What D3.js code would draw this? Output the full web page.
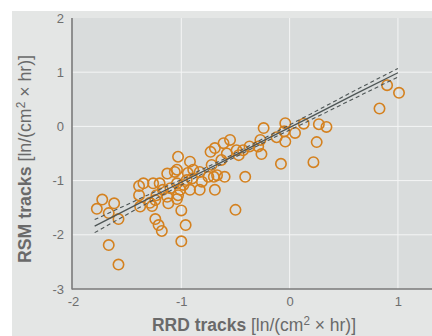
<!DOCTYPE html>
<html>
<head>
<meta charset="utf-8">
<script src="https://cdn.jsdelivr.net/npm/d3@7"></script>
<style>
  html, body { margin: 0; padding: 0; background: #ffffff; }
  svg { display: block; }
  .lbl { font-family: "Liberation Sans", "Roboto", sans-serif; }
</style>
</head>
<body>
<svg id="chart" width="432" height="336"></svg>
<script>
// ---- data ----
const rrd = [-1.78,-1.73,-1.62,-1.67,-1.58,-1.67,-1.58,-1.39,-1.35,-1.39,-1.38,-1.27,-1.24,-1.21,-1.18,-1.00,-0.96,-1.00,-1.12,-1.04,
             -1.13,-1.03,-1.04,-1.20,-1.26,-1.17,-1.10,-1.04,-1.01,-1.23,-1.13,-0.95,-1.06,-0.92,-0.89,-0.83,-0.73,-0.69,-0.61,-0.55,
             -0.58,-0.49,-0.47,-0.37,-0.29,-0.63,-0.72,-0.75,-0.70,-0.60,-0.81,-0.90,-0.92,-0.83,-0.69,-0.41,-0.50,-1.24,0.90,1.01,
             0.83,-0.24,-0.04,0.13,0.27,0.34,-0.05,-0.12,-0.04,0.05,0.25,0.22,-0.08,-0.27,-0.43,-0.26,-0.94,-0.67,-0.98,-1.03,-1.29];
const rsm = [-1.52,-1.35,-1.42,-1.60,-1.71,-2.19,-2.55,-1.10,-1.05,-1.27,-1.48,-1.47,-1.71,-1.82,-1.93,-2.12,-1.82,-1.55,-1.42,-1.34,
             -0.87,-0.56,-0.80,-1.05,-1.05,-1.17,-1.14,-1.05,-1.17,-1.27,-1.30,-0.99,-0.84,-0.65,-0.80,-0.84,-0.47,-0.40,-0.31,-0.25,
             -0.50,-0.44,-0.53,-0.37,-0.37,-0.62,-0.71,-0.93,-0.93,-0.93,-1.02,-0.96,-1.17,-1.17,-1.17,-0.93,-1.54,-1.36,0.76,0.62,
             0.33,-0.03,0.06,0.05,0.04,-0.01,-0.09,-0.20,-0.28,-0.12,-0.29,-0.66,-0.69,-0.25,-0.44,-0.51,-0.86,-0.90,-1.08,-1.27,-1.41];

// regression fit and confidence band
const fitX     = [-1.8, -1.4, -1.0, -0.6, -0.2, 0.2, 0.6, 1.0];
const fitY     = [-1.84, -1.43, -1.03, -0.63, -0.22, 0.18, 0.59, 0.99];
const bandUp   = [-1.72, -1.35, -0.98, -0.595, -0.18, 0.235, 0.66, 1.07];
const bandLow  = [-1.96, -1.51, -1.08, -0.665, -0.26, 0.125, 0.52, 0.91];

const xTicks = [-2, -1, 0, 1];
const yTicks = [2, 1, 0, -1, -2, -3];
const xGrid = [-1, 0, 1];
const yGrid = [1, 0, -1, -2];

// ---- layout ----
const svg = d3.select("#chart");
const mLeft = 72, mTop = 18, mBottom = 289, mRight = 432;
const x = d3.scaleLinear().domain([-2, 1.31]).range([73, 431.5]);
const y = d3.scaleLinear().domain([-3, 2]).range([mBottom, mTop]);

// panels
svg.append("rect").attr("x", 12).attr("y", 11).attr("width", 420).attr("height", 325).attr("fill", "#e4e6e5");
svg.append("rect").attr("x", mLeft).attr("y", mTop).attr("width", mRight - mLeft).attr("height", mBottom - mTop).attr("fill", "#d9dcdc");

// grid
svg.append("g").selectAll("line").data(xGrid).join("line")
  .attr("x1", d => x(d)).attr("x2", d => x(d)).attr("y1", mTop).attr("y2", mBottom)
  .attr("stroke", "#f4f5f5").attr("stroke-width", 1);
svg.append("g").selectAll("line").data(yGrid).join("line")
  .attr("x1", mLeft).attr("x2", mRight).attr("y1", d => y(d)).attr("y2", d => y(d))
  .attr("stroke", "#f4f5f5").attr("stroke-width", 1);

// axes
const fmt = d => String(d);
const yAxis = svg.append("g").attr("transform", `translate(${mLeft},0)`)
  .call(d3.axisLeft(y).tickValues(yTicks).tickSize(0).tickPadding(8).tickFormat(fmt));
const xAxis = svg.append("g").attr("transform", `translate(0,${mBottom})`)
  .call(d3.axisBottom(x).tickValues(xTicks).tickSize(0).tickPadding(8).tickFormat(fmt));
[yAxis, xAxis].forEach(g => {
  g.select(".domain").remove();
  g.selectAll("text").attr("class", "lbl").attr("fill", "#6e6e6e").style("font-size", "13px");
});
svg.append("line").attr("x1", mLeft).attr("x2", mLeft).attr("y1", mTop).attr("y2", mBottom + 0.5)
  .attr("stroke", "#7a7a7a").attr("stroke-width", 1.6);
svg.append("line").attr("x1", mLeft).attr("x2", mRight).attr("y1", mBottom).attr("y2", mBottom)
  .attr("stroke", "#7a7a7a").attr("stroke-width", 1.6);

// points
svg.append("g").selectAll("circle").data(rrd.map((v, i) => [v, rsm[i]])).join("circle")
  .attr("cx", d => x(d[0])).attr("cy", d => y(d[1])).attr("r", 5.2)
  .attr("fill", "none").attr("stroke", "#d4811f").attr("stroke-width", 1.6);

// fit lines
const line = d3.line().x(d => x(d[0])).y(d => y(d[1]));
svg.append("path").attr("d", line(fitX.map((v, i) => [v, fitY[i]])))
  .attr("fill", "none").attr("stroke", "#4e5656").attr("stroke-width", 1.3);
[bandUp, bandLow].forEach(b => {
  svg.append("path").attr("d", line(fitX.map((v, i) => [v, b[i]])))
    .attr("fill", "none").attr("stroke", "#4e5656").attr("stroke-width", 1.1).attr("stroke-dasharray", "4,3");
});

// axis titles (condensed look via textLength)
function title(sel, bold) {
  sel.append("tspan").attr("font-weight", "bold").text(bold);
  sel.append("tspan").text(" [ln/(cm");
  sel.append("tspan").attr("dy", -6).style("font-size", "12px").text("2");
  sel.append("tspan").attr("dy", 6).text(" \u00d7 hr)]");
}
const xt = svg.append("text").attr("class", "lbl").attr("x", 254).attr("y", 331)
  .attr("text-anchor", "middle").attr("fill", "#6a6a6a").style("font-size", "18px")
  .attr("textLength", 204).attr("lengthAdjust", "spacingAndGlyphs");
title(xt, "RRD tracks");

const yt = svg.append("text").attr("class", "lbl")
  .attr("transform", "translate(31,159) rotate(-90)")
  .attr("text-anchor", "middle").attr("fill", "#6a6a6a").style("font-size", "18px")
  .attr("textLength", 208).attr("lengthAdjust", "spacingAndGlyphs");
title(yt, "RSM tracks");
</script>
</body>
</html>
